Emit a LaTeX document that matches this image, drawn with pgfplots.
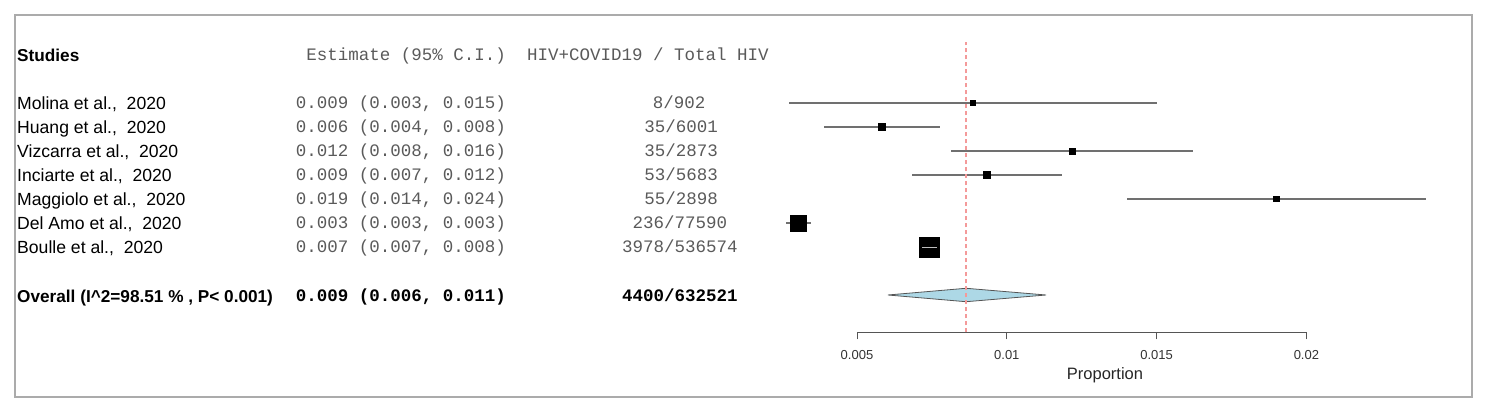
\documentclass[border=0pt]{standalone}
\usepackage{pgfplots}
\pgfplotsset{compat=1.18}
\usepackage{pgfplotstable}
\usepackage{fontspec}
\setmainfont{Liberation Sans}
\newfontfamily\cour{Liberation Mono}
\definecolor{framegray}{HTML}{ABABAB}
\definecolor{cigray}{HTML}{707070}
\definecolor{txtgray}{HTML}{5A5A5A}
\definecolor{refred}{HTML}{F49A9A}
\definecolor{diamondblue}{HTML}{ADD8E6}
\definecolor{axisgray}{HTML}{555555}
\newcommand{\sfT}{\fontsize{17.6}{20}\selectfont}
\newcommand{\sfB}{\fontsize{17.2}{20}\selectfont\bfseries}
\newcommand{\mT}{\cour\fontsize{17.5}{20}\selectfont}

% study  row  estimate  lower  upper  half box size (pt)
\pgfplotstableread{
study y est lo hi half
Molina 7 0.00886 0.00273 0.01500 2.5
Huang 6 0.00582 0.00390 0.00778 3.5
Vizcarra 5 0.01218 0.00815 0.01623 3.0
Inciarte 4 0.00933 0.00683 0.01183 3.5
Maggiolo 3 0.01899 0.01401 0.02398 2.65
DelAmo 2 0.00304 0.00263 0.00346 8.2
Boulle 1 0.00741 0.00717 0.00768 10.2
}\studies

\begin{document}
\begin{tikzpicture}[every node/.append style={inner sep=0pt}]
\useasboundingbox (-15pt,-18pt) rectangle (1474pt,397pt);
% outer frame + text table (coordinates: x = pixel, y = -pixel)
\begin{axis}[name=outer, at={(0,0)}, anchor=south west, scale only axis,
  width=1457pt, height=382pt, xmin=15, xmax=1472, ymin=-397, ymax=-15,
  xtick=\empty, ytick=\empty, axis line style={draw=framegray, line width=1.3pt},
  clip=false]
  \node[anchor=base west, font=\sfB] at (axis cs:17,-61.3) {Studies};
  \node[anchor=base east, font=\mT, text=txtgray] at (axis cs:506,-60.5) {Estimate (95\% C.I.)};
  \node[anchor=base west, font=\mT, text=txtgray] at (axis cs:527,-60.5) {HIV+COVID19 / Total HIV};
  % study names
  \node[anchor=base west, font=\sfT] at (axis cs:17,-109.3) {Molina et al.,\ \ 2020};
  \node[anchor=base west, font=\sfT] at (axis cs:17,-133.3) {Huang et al.,\ \ 2020};
  \node[anchor=base west, font=\sfT] at (axis cs:17,-157.3) {Vizcarra et al.,\ \ 2020};
  \node[anchor=base west, font=\sfT] at (axis cs:17,-181.3) {Inciarte et al.,\ \ 2020};
  \node[anchor=base west, font=\sfT] at (axis cs:17,-205.3) {Maggiolo et al.,\ \ 2020};
  \node[anchor=base west, font=\sfT] at (axis cs:17,-229.3) {Del Amo et al.,\ \ 2020};
  \node[anchor=base west, font=\sfT] at (axis cs:17,-253.3) {Boulle et al.,\ \ 2020};
  \node[anchor=base west, font=\sfB] at (axis cs:17,-302.3) {Overall (I\textasciicircum 2=98.51 \% , P< 0.001)};
  % estimates
  \node[anchor=base east, font=\mT, text=txtgray] at (axis cs:506,-108.5) {0.009 (0.003, 0.015)};
  \node[anchor=base east, font=\mT, text=txtgray] at (axis cs:506,-132.5) {0.006 (0.004, 0.008)};
  \node[anchor=base east, font=\mT, text=txtgray] at (axis cs:506,-156.5) {0.012 (0.008, 0.016)};
  \node[anchor=base east, font=\mT, text=txtgray] at (axis cs:506,-180.5) {0.009 (0.007, 0.012)};
  \node[anchor=base east, font=\mT, text=txtgray] at (axis cs:506,-204.5) {0.019 (0.014, 0.024)};
  \node[anchor=base east, font=\mT, text=txtgray] at (axis cs:506,-228.5) {0.003 (0.003, 0.003)};
  \node[anchor=base east, font=\mT, text=txtgray] at (axis cs:506,-252.5) {0.007 (0.007, 0.008)};
  \node[anchor=base east, font=\mT\bfseries] at (axis cs:506,-301.5) {0.009 (0.006, 0.011)};
  % counts
  \node[anchor=base, font=\mT, text=txtgray] at (axis cs:679,-108.5) {8/902};
  \node[anchor=base, font=\mT, text=txtgray] at (axis cs:681,-132.5) {35/6001};
  \node[anchor=base, font=\mT, text=txtgray] at (axis cs:681,-156.5) {35/2873};
  \node[anchor=base, font=\mT, text=txtgray] at (axis cs:681,-180.5) {53/5683};
  \node[anchor=base, font=\mT, text=txtgray] at (axis cs:681,-204.5) {55/2898};
  \node[anchor=base, font=\mT, text=txtgray] at (axis cs:680,-228.5) {236/77590};
  \node[anchor=base, font=\mT, text=txtgray] at (axis cs:680,-252.5) {3978/536574};
  \node[anchor=base, font=\mT\bfseries] at (axis cs:680,-301.5) {4400/632521};
  \node[anchor=center, font=\fontsize{16.5}{18}\selectfont, text=black!85] at (axis cs:1105,-375) {Proportion};
\end{axis}
% forest plot
\begin{axis}[at={(842pt,64.5pt)}, anchor=south west, scale only axis,
  width=449.4pt, height=317.5pt, xmin=0.005, xmax=0.02, ymin=-2.5625, ymax=10.6667,
  axis x line*=bottom, axis y line=none, clip=false, clip mode=individual,
  x axis line style={draw=axisgray, line width=1pt},
  scaled x ticks=false,
  xtick={0.005,0.01,0.015,0.02}, xticklabels={0.005,0.01,0.015,0.02},
  tick align=outside, major tick length=7pt,
  every tick/.style={draw=axisgray, line width=1pt},
  xticklabel style={font=\fontsize{13}{14}\selectfont, text=black!80, yshift=-11pt}]
  % confidence intervals
  \addplot[draw=none, mark=none, forget plot,
    error bars/.cd, x dir=both, x explicit, error mark=none,
    error bar style={draw=cigray, line width=1.2pt, solid}]
    table[x=est, y=y, x error plus expr=\thisrow{hi}-\thisrow{est},
          x error minus expr=\thisrow{est}-\thisrow{lo}] {\studies};
  % study boxes
  \addplot[scatter, only marks, mark=square*,
    scatter/use mapped color={draw=black, fill=black},
    visualization depends on={\thisrow{half} \as \hs},
    scatter/@pre marker code/.append style={/tikz/mark size=\hs}]
    table[x=est, y=y] {\studies};
  % CI inside the Boulle box drawn in white
  \addplot[black!25, line width=0.9pt, mark=none] coordinates {(0.00717,1) (0.00768,1)};
  % overall diamond
  \addplot[fill=diamondblue, draw=axisgray, line width=0.8pt, mark=none]
    coordinates {(0.00603,-1) (0.00864,-0.72) (0.01131,-1) (0.00864,-1.28)} -- cycle;
  % overall estimate reference line
  \addplot[refred, line width=1.2pt, dash pattern=on 4pt off 3pt, mark=none]
    coordinates {(0.00864,-2.5625) (0.00864,9.54)};
\end{axis}
\end{tikzpicture}
\end{document}
